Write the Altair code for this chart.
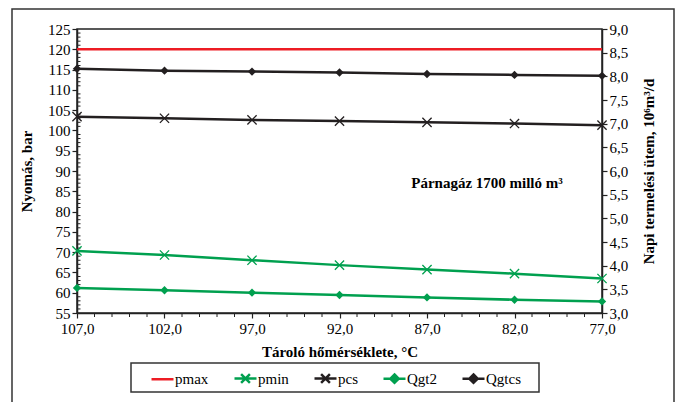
import altair as alt
import pandas as pd

temps = [107, 102, 97, 92, 87, 82, 77]
pmax = [120, 120, 120, 120, 120, 120, 120]
pmin = [70.3, 69.3, 68.0, 66.8, 65.7, 64.7, 63.5]
pcs = [103.4, 103.0, 102.6, 102.3, 102.0, 101.7, 101.3]
qgt2 = [3.53, 3.48, 3.43, 3.38, 3.33, 3.28, 3.245]
qgtcs = [8.16, 8.12, 8.10, 8.08, 8.05, 8.03, 8.01]

series_names = ["pmax", "pmin", "pcs", "Qgt2", "Qgtcs"]
series_colors = ["#ED1C24", "#00A04F", "#231F20", "#00A04F", "#231F20"]
# plotting colour scale (different domain order so it is not merged with the legend scales)
plot_names = ["Qgtcs", "Qgt2", "pcs", "pmin", "pmax"]
plot_colors = ["#231F20", "#00A04F", "#231F20", "#00A04F", "#ED1C24"]
legend_paths = [
    "M-1,0L1,0",
    "M-1,0L1,0M-0.4,-0.4L0.4,0.4M-0.4,0.4L0.4,-0.4",
    "M-1,0L1,0M-0.4,-0.4L0.4,0.4M-0.4,0.4L0.4,-0.4",
    "M-1,0L1,0M0,-0.38L0.38,0L0,0.38L-0.38,0Z",
    "M-1,0L1,0M0,-0.38L0.38,0L0,0.38L-0.38,0Z",
]
x_major = [107, 102, 97, 92, 87, 82, 77]
x_minor = [v for v in range(78, 107) if (107 - v) % 5 != 0]
y_left_major = [55, 60, 65, 70, 75, 80, 85, 90, 95, 100, 105, 110, 115, 120, 125]
y_left_minor = [v for v in range(56, 125) if v % 5 != 0]
y_right_values = [3.0, 3.5, 4.0, 4.5, 5.0, 5.5, 6.0, 6.5, 7.0, 7.5, 8.0, 8.5, 9.0]

FONT = "Liberation Serif"

press = pd.DataFrame({
    "t": temps * 3,
    "v": pmax + pmin + pcs,
    "series": ["pmax"] * 7 + ["pmin"] * 7 + ["pcs"] * 7,
})
rate = pd.DataFrame({
    "t": temps * 2,
    "v": qgt2 + qgtcs,
    "series": ["Qgt2"] * 7 + ["Qgtcs"] * 7,
})
legend_df = pd.DataFrame({"series": series_names})

color_scale = alt.Scale(domain=plot_names, range=plot_colors)

x_axis = alt.Axis(
    values=x_major,
    labelExpr="replace(format(datum.value, '.1f'), '.', ',')",
    tickSize=5,
    labelOverlap=False,
    labelFlush=False,
    title="Tároló hőmérséklete, °C",
    titlePadding=8,
    labelPadding=3,
)
x_scale = alt.Scale(domain=[77, 107], reverse=True, nice=False, zero=False)

yl_axis = alt.Axis(
    values=y_left_major,
    tickSize=5,
    labelOverlap=False,
    labelFlush=False,
    title="Nyomás, bar",
    titlePadding=13,
    labelPadding=2,
)
yl_scale = alt.Scale(domain=[55, 125], nice=False, zero=False)

yr_axis = alt.Axis(
    orient="right",
    values=y_right_values,
    labelExpr="replace(format(datum.value, '.1f'), '.', ',')",
    tickSize=5,
    labelOverlap=False,
    labelFlush=False,
    title="Napi termelési ütem, 10⁶m³/d",
    titleAngle=270,
    titleBaseline="top",
    titlePadding=14,
    labelPadding=2,
)
yr_scale = alt.Scale(domain=[3, 9], nice=False, zero=False)


def X():
    return alt.X("t:Q", scale=x_scale, axis=x_axis)


def YL():
    return alt.Y("v:Q", scale=yl_scale, axis=yl_axis)


def YR():
    return alt.Y("v:Q", scale=yr_scale, axis=yr_axis)


frame = alt.Chart(pd.DataFrame({"a": [0]})).mark_rect(
    fillOpacity=0, stroke="#333333", strokeWidth=1.5
).encode(
    x=alt.value(-65), x2=alt.value(597), y=alt.value(-20), y2=alt.value(390)
)

legend_box = alt.Chart(pd.DataFrame({"a": [0]})).mark_rect(
    fillOpacity=0, stroke="#333333", strokeWidth=1.5
).encode(
    x=alt.value(54), x2=alt.value(462), y=alt.value(334), y2=alt.value(363)
)

y_minor_ticks = alt.Chart(pd.DataFrame({"v": y_left_minor})).mark_rule(
    color="#222222", strokeWidth=1
).encode(
    y=YL(), x=alt.value(0), x2=alt.value(3.5)
)

x_minor_ticks = alt.Chart(pd.DataFrame({"t": x_minor})).mark_rule(
    color="#222222", strokeWidth=1
).encode(
    x=X(), y=alt.value(284), y2=alt.value(288)
)

p_lines = alt.Chart(press).mark_line(strokeWidth=2.5).encode(
    x=X(), y=YL(),
    color=alt.Color("series:N", scale=color_scale, legend=None),
    detail="series:N",
)

p_marks = alt.Chart(press).transform_filter(
    "datum.series !== 'pmax'"
).mark_point(
    shape="M-1,-1L1,1M-1,1L1,-1", size=85, strokeWidth=1.3, filled=False, opacity=1
).encode(
    x=X(), y=YL(),
    color=alt.Color("series:N", scale=color_scale, legend=None),
)

leg_kwargs = dict(
    title=None, orient="none", legendX=73, legendY=337,
    direction="horizontal", columns=5, columnPadding=20,
    symbolSize=484, symbolStrokeWidth=2.5, labelOffset=0,
    labelFont=FONT, labelFontSize=15, labelColor="black",
    padding=0, symbolOpacity=1, zindex=1,
)

legend_layer = alt.Chart(legend_df).mark_point(
    strokeWidth=2.5, opacity=1
).encode(
    x=alt.value(-3000), y=alt.value(-3000),
    fill=alt.Fill("series:N", scale=alt.Scale(domain=series_names, range=series_colors),
                  legend=alt.Legend(**leg_kwargs)),
    stroke=alt.Stroke("series:N", scale=alt.Scale(domain=series_names, range=series_colors),
                      legend=alt.Legend(**leg_kwargs)),
    shape=alt.Shape("series:N", scale=alt.Scale(domain=series_names, range=legend_paths),
                    legend=alt.Legend(**leg_kwargs)),
)

note = alt.Chart(pd.DataFrame({"a": [0]})).mark_text(
    text="Párnagáz 1700 milló m³", font=FONT, fontSize=15, fontWeight="bold",
    align="center", baseline="middle", color="black"
).encode(x=alt.value(410), y=alt.value(154))

q_lines = alt.Chart(rate).mark_line(strokeWidth=2.5).encode(
    x=X(), y=YR(),
    color=alt.Color("series:N", scale=color_scale, legend=None),
    detail="series:N",
)

q_marks = alt.Chart(rate).mark_point(
    shape="diamond", size=70, filled=True, opacity=1
).encode(
    x=X(), y=YR(),
    color=alt.Color("series:N", scale=color_scale, legend=None),
)

left = alt.layer(frame, legend_box, y_minor_ticks, x_minor_ticks, p_lines, p_marks, legend_layer, note)
right = alt.layer(q_lines, q_marks)

chart = alt.layer(left, right).resolve_scale(y="independent").properties(
    width=525, height=284,
    autosize=alt.AutoSizeParams(type="none"),
    padding={"left": 77, "top": 29, "right": 78, "bottom": 89},
).configure_view(
    stroke="#222222", strokeWidth=1.5
).configure_axis(
    labelFont=FONT, labelFontSize=15, labelColor="black",
    titleFont=FONT, titleFontSize=15, titleFontWeight="bold", titleColor="black",
    domainColor="#222222", domainWidth=1.5, tickColor="#222222", tickWidth=1.2,
    grid=False, labelOverlap=False,
).configure_legend(
    labelFont=FONT, labelFontSize=15, labelColor="black", labelOffset=0,
    columnPadding=20, symbolStrokeWidth=2.5,
)

chart.save("out.html", embed_options={"renderer": "svg", "actions": False})
